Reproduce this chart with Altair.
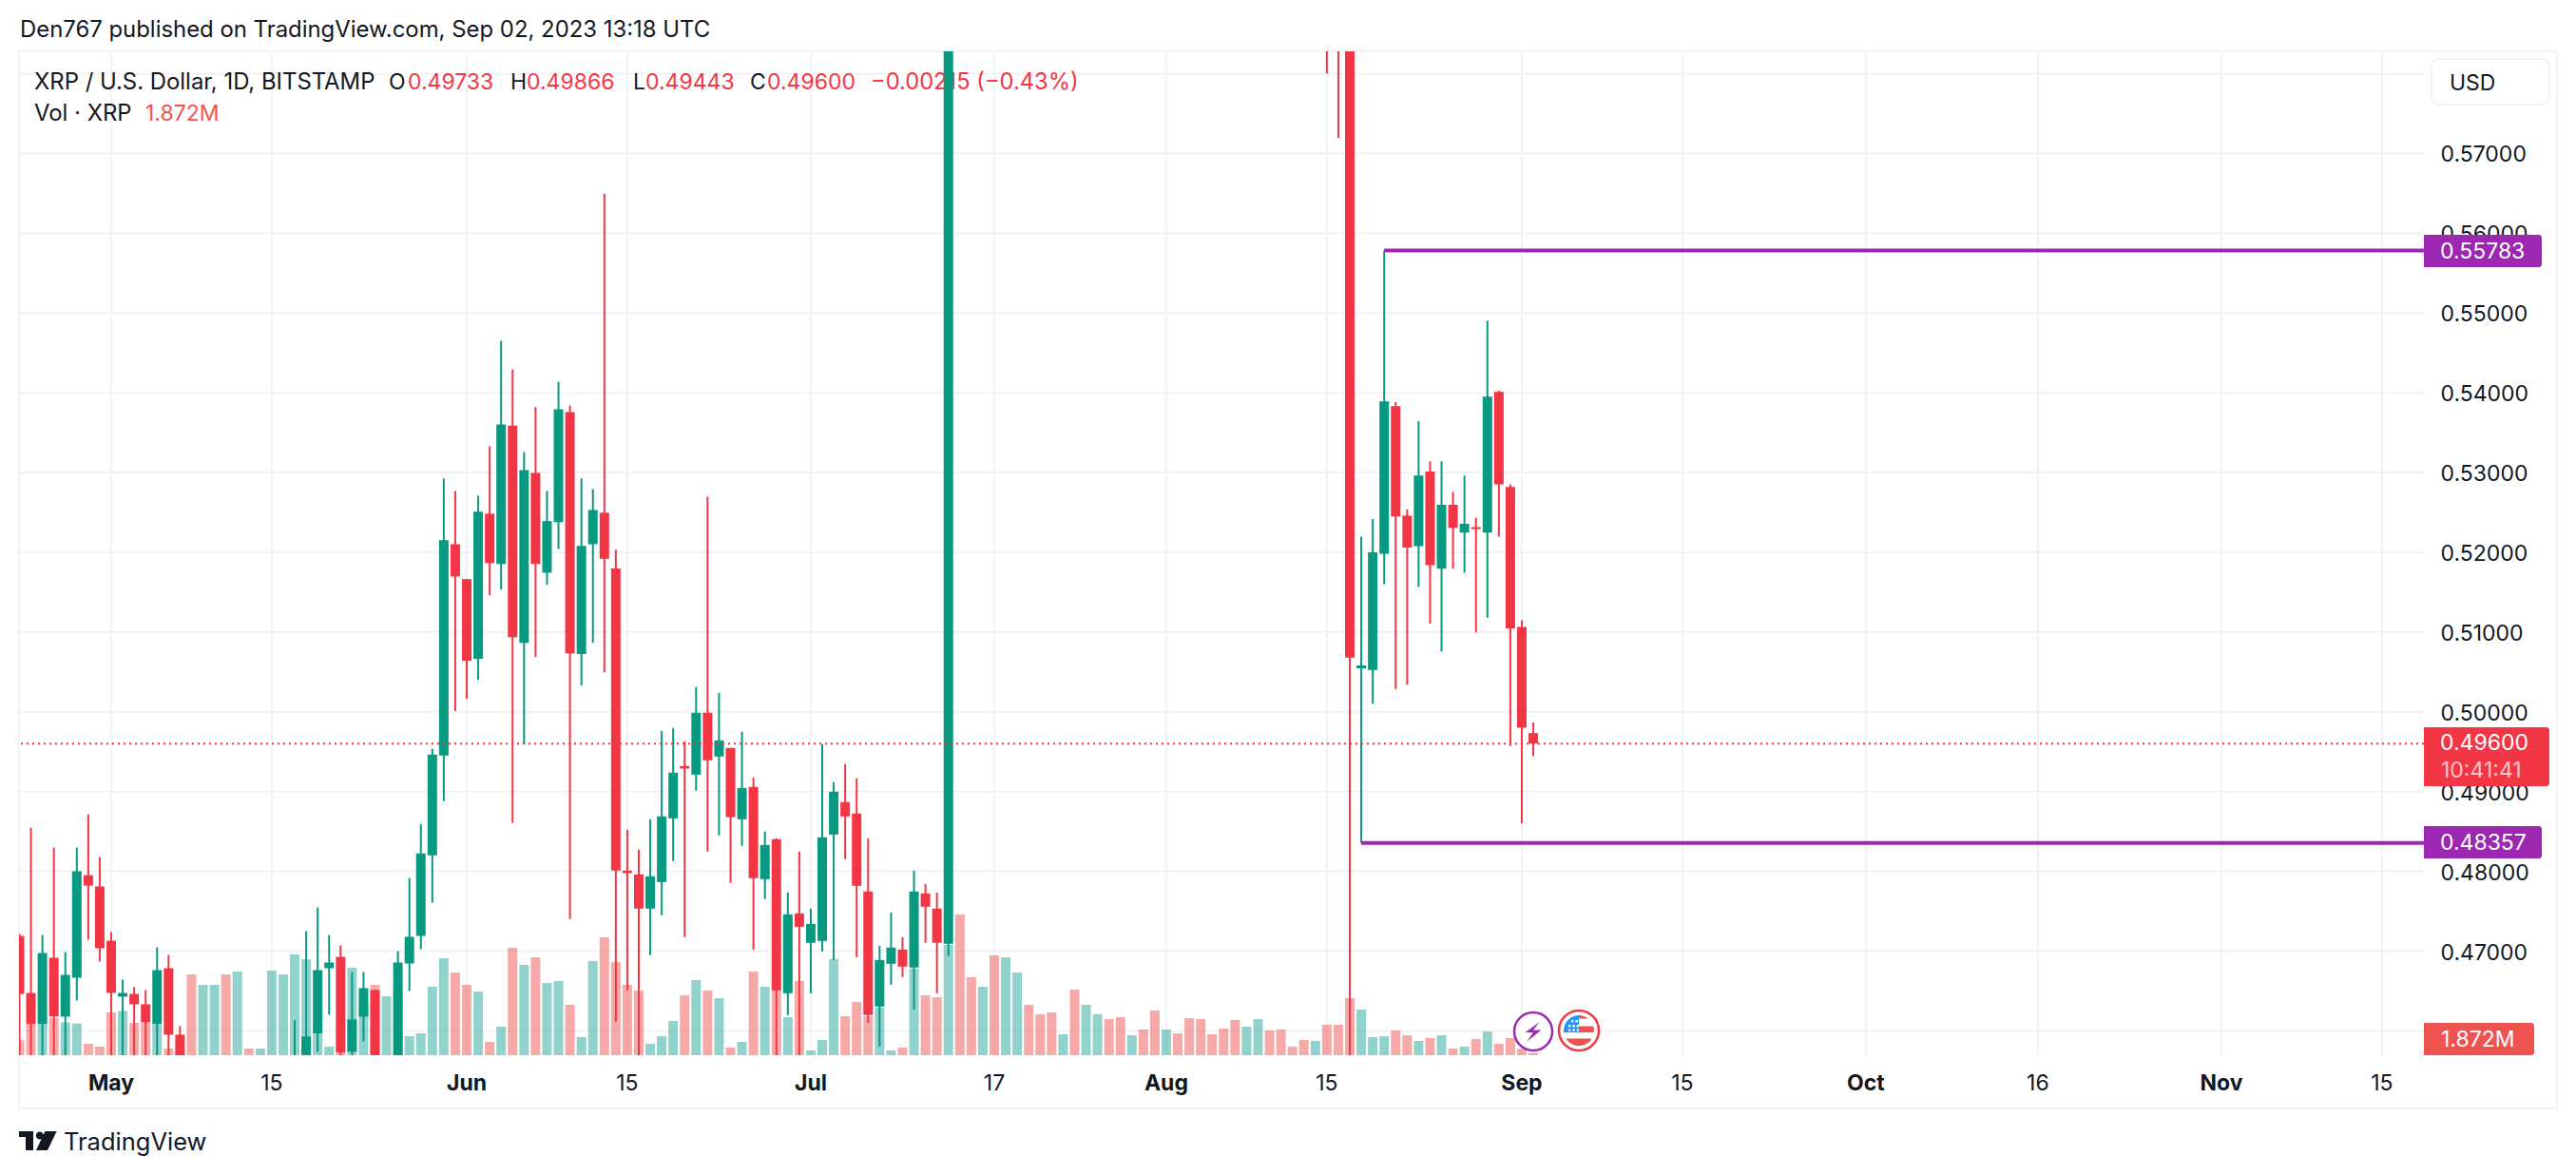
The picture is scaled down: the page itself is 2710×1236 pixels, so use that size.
import altair as alt
import pandas as pd

# ---- values ----
candle_days = [-8,-7,-6,-5,-4,-3,-2,-1,0,1,2,3,4,5,6,16,17,18,19,20,21,22,23,25,26,27,28,29,30,31,32,33,34,35,36,37,38,39,40,41,42,43,44,45,46,47,48,49,50,51,52,53,54,55,56,57,58,59,60,61,62,63,64,65,66,67,68,69,70,71,72,73,106,107,108,109,110,111,112,113,114,115,116,117,118,119,120,121,122,123,124]
opens = [.4719,.46476,.46083,.46917,.46179,.46667,.47952,.4781,.47131,.46429,.46464,.46333,.46083,.46786,.45952,.452,.452,.45964,.46786,.46929,.45738,.46179,.46512,.455,.46845,.4719,.48202,.49452,.52102,.51664,.50665,.52484,.51855,.53589,.50865,.52994,.51745,.52378,.53759,.50725,.52102,.52497,.51796,.4801,.47962,.47533,.47866,.48665,.49321,.49213,.49988,.4944,.49547,.48653,.49058,.47902,.48403,.46472,.47473,.47104,.47128,.48462,.48868,.48725,.47747,.46305,.46841,.4702,.46794,.47723,.47533,.47092,.62,.60,.59,.50546,.50526,.51983,.53831,.5246,.52077,.53014,.51796,.52596,.52247,.52315,.52247,.5401,.52818,.51063,.49733]
closes = [.46464,.46083,.46976,.46179,.46702,.48,.47821,.47036,.46476,.46476,.46333,.46107,.46762,.45952,.455,.455,.45929,.46762,.46857,.45726,.46143,.46536,.455,.46857,.47179,.48226,.49464,.52153,.51698,.5064,.5251,.51864,.53602,.50937,.53032,.51855,.52391,.53793,.50733,.5208,.52531,.51919,.4801,.47978,.47533,.47938,.48689,.49237,.49289,.49988,.49392,.49642,.4868,.49046,.47914,.48331,.46508,.47461,.47306,.47342,.48427,.48999,.48689,.47819,.46198,.46889,.47044,.46806,.47747,.47557,.47104,.81,.60,.59,.5068,.50582,.52,.53891,.52451,.5206,.52963,.51838,.52596,.52307,.52358,.5229,.53951,.52852,.51046,.49802,.496]
highs = [.47214,.48548,.47202,.48298,.46988,.48298,.48714,.48179,.47238,.46643,.46548,.46512,.47048,.46952,.4606,.46131,.4725,.47548,.47202,.47071,.46738,.46738,.46512,.47,.47917,.48595,.49536,.52926,.52769,.51664,.52709,.5333,.54652,.54295,.53258,.53819,.52769,.54137,.5384,.52926,.52794,.56496,.52034,.48522,.48272,.48653,.49762,.49797,.49631,.5031,.52697,.50238,.49547,.4975,.49178,.48498,.48415,.47735,.48248,.47533,.49595,.49118,.49344,.49166,.48415,.47068,.47485,.47175,.4801,.47843,.47735,.93,.64,.61,.60,.52196,.52417,.55783,.53882,.52537,.53644,.53141,.53141,.52758,.52963,.52434,.54905,.54027,.52852,.51148,.49866]
lows = [.455,.455,.455,.455,.455,.46381,.47143,.46869,.455,.455,.455,.455,.455,.455,.45,.45,.45,.45738,.46202,.455,.455,.45869,.45,.45,.465,.47024,.47607,.48881,.5001,.50164,.504,.5146,.51532,.48605,.49591,.50686,.51592,.52042,.47402,.50329,.50865,.50495,.46114,.46508,.455,.46949,.47449,.48129,.47175,.49011,.48248,.48451,.47855,.48319,.4702,.47652,.455,.46198,.455,.46472,.46996,.46889,.48153,.46925,.46103,.45805,.46579,.46675,.46269,.47104,.46472,.46937,.58005,.57196,.45,.48357,.501,.516,.50288,.50339,.51566,.51106,.50756,.51796,.51744,.50995,.51182,.52196,.49572,.48601,.49443]

volume_start_day = -8
volumes = [12,24,24,29.25,26,25,9,6.75,33.75,35,25.5,25.5,24,5.25,5,63.75,55.5,55.5,63.75,66,5.25,5.25,66.75,63.75,79.5,75.75,16.5,6.75,1.5,69,41.75,55.5,46.5,50,15,17.25,54,76.5,65.25,55.5,50.25,10.5,22.5,84.75,71.25,77.25,57,58.5,39.75,14.25,74.25,93,73.5,55.5,51,9,15,27,47.25,59.25,51,45,6,10.5,66,54,52,30,58.5,3.75,12,75.75,30.75,42,30.75,37.5,3.75,6,68.25,47.25,45.75,87,111,61.5,54,78.75,77.25,65.25,39.75,32.25,33.75,16.5,51.75,39.75,32.25,28.5,30,15.75,20.25,35.25,20.25,17.25,29.25,28.5,16.5,21,27.75,22.5,28.5,19.5,20.25,6.75,12,11.25,24,24,45,36,14.25,15,19.5,15.75,11.25,13.5,15.75,5.25,6.75,12.75,18.75,9,13.5,5,1.872]
volume_dirs = list(
    "dduduudd"
    "dudduddduu"
    "duduuuuuuu"
    "duuduuuuuu"
    "ddudududuu"
    "duudddduuu"
    "dududududu"
    "duuuddduud"
    "uddudduduu"
    "ddduduuddu"
    "dduddddddu"
    "uddddudddu"
    "uuddududud"
    "udddd"
)

tick_days = [0,14,31,45,61,77,92,106,123,137,153,168,184,198]
tick_labels = ["May","15","Jun","15","Jul","17","Aug","15","Sep","15","Oct","16","Nov","15"]
month_days = [0,31,61,92,123,153,184]
price_ticks = [.46,.47,.48,.49,.50,.51,.52,.53,.54,.55,.56,.57]
grid_prices = price_ticks + [.58]
level_starts = [109,111]
level_prices = [.48357,.55783]
last_price = .496

# ---- colours / fonts ----
GREEN, RED = "#089981", "#F23645"
VGREEN, VRED = "#26A69A", "#EF5350"
PURPLE = "#9C27B0"
INK = "#131722"
FONT = "Inter"
GRID = "#F1F2F3"
FRAME = "#F0F3FA"

candles = pd.DataFrame({"day": candle_days, "o": opens, "c": closes, "h": highs, "l": lows})
candles["dir"] = ["u" if c >= o else "d" for o, c in zip(opens, closes)]
vols = pd.DataFrame({"day": [volume_start_day + i for i in range(len(volumes))], "v": volumes, "dir": volume_dirs})
ticks = pd.DataFrame({"day": tick_days, "t": tick_labels})
ticks["w"] = ["bold" if d in month_days else "normal" for d in tick_days]

xscale = alt.Scale(domain=[-8.04, 201.66], nice=False, zero=False, padding=0)
yscale = alt.Scale(domain=[0.45695, 0.58281], nice=False, zero=False)
vscale = alt.Scale(domain=[0, 792], nice=False, zero=True)
cscale = alt.Scale(domain=["u", "d"], range=[GREEN, RED])
vcscale = alt.Scale(domain=["u", "d"], range=[VGREEN, VRED])

X = alt.X("day:Q", scale=xscale, axis=None)
def Y(field):
    return alt.Y(f"{field}:Q", scale=yscale, axis=None)

vgrid = alt.Chart(ticks).mark_rule(color=GRID, strokeWidth=2).encode(x=X)

tick_text = [
    alt.Chart(ticks[ticks.w == w]).mark_text(
        font=FONT, fontSize=23, color=INK, baseline="middle", align="center", fontWeight=w
    ).encode(x=X, y=alt.value(1140 - 54), text="t:N")
    for w in ["bold", "normal"]
]

hgrid = alt.Chart(pd.DataFrame({"p": grid_prices})).mark_rule(color=GRID, strokeWidth=2, clip=True).encode(
    y=alt.Y("p:Q", scale=yscale, axis=alt.Axis(
        orient="right", values=price_ticks, format=".5f", domain=False, ticks=False, grid=False,
        title=None, labelFont=FONT, labelFontSize=23, labelColor=INK, labelPadding=17,
        labelOffset=1.5, labelOverlap=False, labelFlush=False, labelBound=False)))

vol_layer = alt.Chart(vols).mark_bar(size=10, opacity=0.5, clip=True).encode(
    x=X, y=alt.Y("v:Q", scale=vscale, axis=None),
    color=alt.Color("dir:N", scale=vcscale, legend=None))

wicks = alt.Chart(candles).mark_rule(strokeWidth=2, clip=True).encode(
    x=X, y=Y("h"), y2="l:Q", color=alt.Color("dir:N", scale=cscale, legend=None))
bodies = alt.Chart(candles).mark_bar(size=10, clip=True).encode(
    x=X, y=Y("o"), y2="c:Q", color=alt.Color("dir:N", scale=cscale, legend=None))

last_line = alt.Chart(pd.DataFrame({"p": [last_price]})).mark_rule(
    color=RED, strokeWidth=2, strokeDash=[2, 4]).encode(y=Y("p"))

levels = alt.Chart(pd.DataFrame({"day": level_starts, "end": [201.66, 201.66], "p": level_prices})).mark_rule(
    color=PURPLE, strokeWidth=4).encode(x=X, x2="end:Q", y=Y("p"))

def text(t, x, y, size=23, color=INK, weight="normal", opacity=1.0, align="left"):
    return alt.Chart(alt.Data(values=[{"t": t}])).mark_text(
        font=FONT, fontSize=size, color=color, fontWeight=weight, opacity=opacity,
        baseline="middle", align=align).encode(
        x=alt.value(x - 20), y=alt.value(y - 54), text="t:N")

def box(x1, y1, x2, y2, **kw):
    return alt.Chart(alt.Data(values=[{}])).mark_rect(**kw).encode(
        x=alt.value(x1 - 20), x2=alt.value(x2 - 20), y=alt.value(y1 - 54), y2=alt.value(y2 - 54))

def sym(path, x, y, size, **kw):
    return alt.Chart(alt.Data(values=[{}])).mark_point(shape=path, size=size, **kw).encode(
        x=alt.value(x - 20), y=alt.value(y - 54))

frame = box(20, 54, 2690, 1166, fillOpacity=0, stroke=FRAME, strokeWidth=2)

header = [
    text("Den767 published on TradingView.com, Sep 02, 2023 13:18 UTC", 21, 32, size=23.9),
    text("XRP / U.S. Dollar, 1D, BITSTAMP", 36, 87, size=23.9),
    text("O", 409, 87), text("0.49733", 429, 87, color=RED),
    text("H", 537, 87), text("0.49866", 554, 87, color=RED),
    text("L", 666, 87), text("0.49443", 679, 87, color=RED),
    text("C", 789, 87), text("0.49600", 807, 87, color=RED),
    text("\u22120.00215 (\u22120.43%)", 916, 87, color=RED, size=23.7),
    text("Vol \u00b7 XRP", 36, 120, size=23.9),
    text("1.872M", 153, 120, color=VRED),
]

tags = [
    box(2558, 62, 2682, 110, fill="white", stroke=FRAME, strokeWidth=2, cornerRadius=8),
    text("USD", 2577, 87.5),
    box(2550, 247, 2674, 281, fill=PURPLE, cornerRadiusTopRight=3, cornerRadiusBottomRight=3),
    text("0.55783", 2567, 264.5, color="white"),
    box(2550, 869, 2674, 903, fill=PURPLE, cornerRadiusTopRight=3, cornerRadiusBottomRight=3),
    text("0.48357", 2567, 886.5, color="white"),
    box(2550, 765, 2682, 827, fill=RED, cornerRadiusTopRight=3, cornerRadiusBottomRight=3),
    text("0.49600", 2567, 782, color="white"),
    text("10:41:41", 2568, 811, color="white", opacity=0.7),
    box(2550, 1076, 2666, 1110, fill=VRED, cornerRadiusTopRight=3, cornerRadiusBottomRight=3),
    text("1.872M", 2568, 1094, color="white"),
]

# circular event markers and the logo glyph
CIRCLE = "M-1,0A1,1 0 1,1 1,0A1,1 0 1,1 -1,0Z"
BOLT = "M.33,-.5L-.42,.05L0,.05L-.33,.53L.42,-.08L0,-.08Z"
STRIPES = ("M0,-.8A.8,.8 0 0 1 .5,-.62L0,-.62Z M0,-.22L.77,-.22A.8,.8 0 0 1 .79,.1L0,.1Z "
           "M-.68,.42L.68,.42A.8,.8 0 0 1 -.68,.42Z")
CANTON = "M0,-.8L0,.1L-.79,.1A.8,.8 0 0 1 0,-.8Z"
STARS = ("M-.4,-.55h.12v.12h-.12Z M-.18,-.55h.12v.12h-.12Z M-.55,-.3h.12v.12h-.12Z M-.33,-.3h.12v.12h-.12Z "
         "M-.12,-.3h.12v.12h-.12Z M-.55,-.08h.12v.12h-.12Z M-.33,-.08h.12v.12h-.12Z M-.12,-.08h.12v.12h-.12Z")
LOGO = ("M-1,-.5L-.25,-.5L-.25,.5L-.65,.5L-.65,-.2L-1,-.2Z "
        "M.29,-.28A.2,.2 0 1 1 -.11,-.28A.2,.2 0 1 1 .29,-.28Z "
        "M.37,-.5L.98,-.5L.5,.5L-.1,.5Z")

markers = [
    sym(CIRCLE, 1613, 1085, 1600, filled=True, fill="white", stroke=PURPLE, strokeWidth=2.5, opacity=1),
    sym(BOLT, 1613, 1085, 1600, filled=True, fill=PURPLE, opacity=1),
    sym(CIRCLE, 1661, 1084, 1764, filled=True, fill="white", stroke=RED, strokeWidth=2.5, opacity=1),
    sym(STRIPES, 1661, 1084, 1600, filled=True, fill=VRED, opacity=1),
    sym(CANTON, 1661, 1084, 1600, filled=True, fill="#2196F3", opacity=1),
    sym(STARS, 1661, 1084, 1600, filled=True, fill="white", opacity=1),
    sym(LOGO, 40, 1200, 1600, filled=True, fill=INK, opacity=1),
    text("TradingView", 67, 1202, size=25.5),
]

layers = [hgrid, vgrid, frame] + tick_text + header + [vol_layer, wicks, bodies, last_line, levels] + tags + markers

chart = alt.layer(*layers).resolve_scale(y="independent", color="independent").properties(
    width=2530, height=1056,
    padding={"left": 12, "top": 46, "right": 152, "bottom": 118},
    autosize=alt.AutoSizeParams(type="none"),
    background="white",
).configure_view(stroke=None)

chart.save("out.html", embed_options={"renderer": "svg", "actions": False})
